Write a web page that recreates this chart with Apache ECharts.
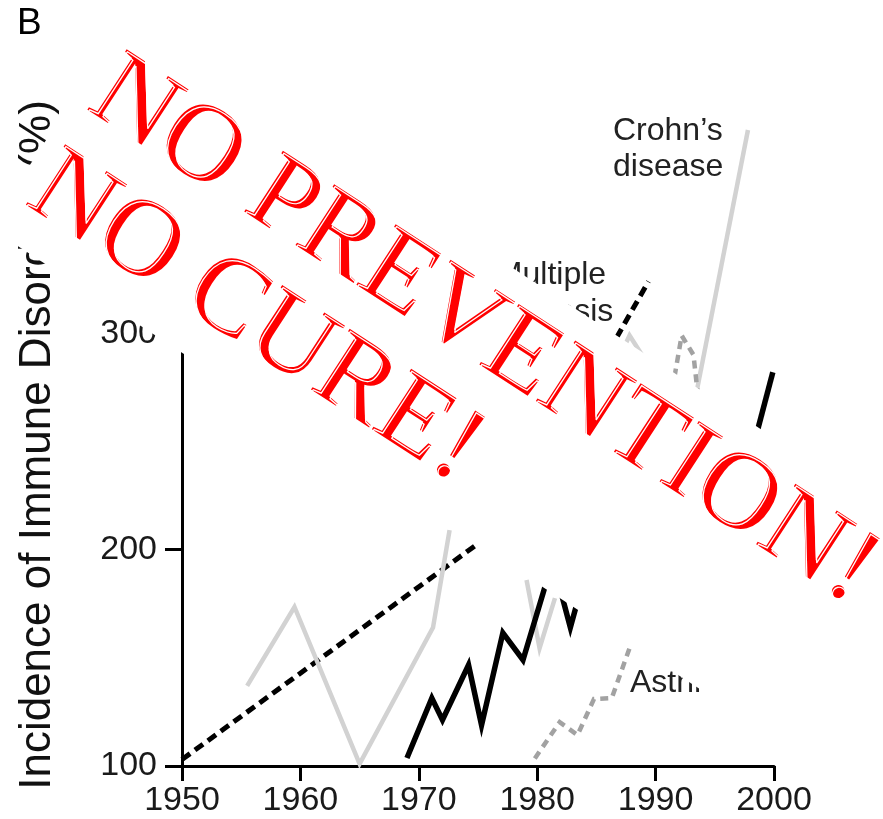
<!DOCTYPE html>
<html><head><meta charset="utf-8">
<script src="https://cdn.jsdelivr.net/npm/echarts@6/dist/echarts.min.js"></script>
<style>html,body{margin:0;padding:0;background:#fff}#c{width:883px;height:819px}</style>
</head><body><div id="c"></div>
<script>
// ---- axes ----
const xTicks = [1950, 1960, 1970, 1980, 1990, 2000];
const yTicks = [100, 200, 300, 400];
const yAxisTitle = 'Incidence of Immune Disorders (%)';
const panelLabel = 'B';
const overlayLines = ['NO PREVENTION!', 'NO CURE!'];

// ---- series (visible parts) ----
const blackDashedYears = [1950, 1974.8];
const blackDashedValues = [103, 202];

const grayA_Years = [1955.5, 1959.5, 1965.0, 1971.2, 1972.6];
const grayA_Values = [137, 173.5, 101, 164, 209];
const grayB_Years = [1979.1, 1980.2, 1981.5];
const grayB_Values = [186, 154.5, 177.6];
const grayC_Years = [1987.2, 1987.8, 1989.2];
const grayC_Values = [292, 299, 287];

const crohnYears = [1993.5, 1997.8];
const crohnValues = [274, 394];

const blackA_Years = [1969.0, 1971.1, 1972.0, 1974.2, 1975.3, 1977.1, 1978.8, 1980.5, 1981.3, 1982.8, 1983.6];
const blackA_Values = [103.7, 131.4, 121.3, 146.7, 118.9, 161.5, 149, 180, 195, 164, 180];
const blackB_Years = [1998.6, 1999.9];
const blackB_Values = [255, 282];

const msYears = [1986.7, 1989.4];
const msValues = [298, 324];

const asthmaYears = [1979.8, 1981.9, 1983.4, 1984.8, 1986.3, 1987.8];
const asthmaValues = [103.5, 120.3, 114.3, 131, 131.4, 154.5];
const grayDashB_Years = [1991.6, 1992.2, 1993.2, 1993.6];
const grayDashB_Values = [280, 299, 290, 270];

const labels = [
  {text: 'Crohn\u2019s', x: 613, y: 131.5, align: 'left'},
  {text: 'disease', x: 613, y: 167, align: 'left'},
  {text: 'Multiple', x: 551, y: 275, align: 'center'},
  {text: 'sclerosis', x: 551, y: 312, align: 'center'},
  {text: 'Asthma', x: 630, y: 683, align: 'left'}
];

function pts(xs, ys) { return xs.map((x, i) => [x, ys[i]]); }
function line(name, xs, ys, color, width, type) {
  return {
    name, type: 'line', data: pts(xs, ys), symbol: 'none', silent: true,
    lineStyle: {color, width, type: type || 'solid', join: 'miter', cap: 'butt'},
    z: 3, animation: false
  };
}
const BLACK = '#000', LIGHT = '#d2d2d2', MID = '#a2a2a2';

const chart = echarts.init(document.getElementById('c'), null, {renderer: 'canvas'});
const fontSans = '"Liberation Sans", Arial, sans-serif';
const fontSerif = '"Liberation Serif", "DejaVu Serif", serif';
const rot = -33 * Math.PI / 180;
const FS = 110;

function redText(str, y) {
  return [
    {type: 'text', z: 101, x: 15, y: y, style: {text: str, fill: '#ff0000', fontSize: FS, fontFamily: fontSerif, align: 'left', verticalAlign: 'middle'}},
    {type: 'text', z: 102, x: 17, y: y + 1.5, style: {text: str, fill: 'none', stroke: '#ffffff', lineWidth: 1.2, fontSize: FS, fontFamily: fontSerif, align: 'left', verticalAlign: 'middle'}}
  ];
}

chart.setOption({
  backgroundColor: '#fff',
  animation: false,
  grid: {left: 182, right: 109, top: 117, bottom: 53, containLabel: false},
  xAxis: {
    type: 'value', min: xTicks[0], max: xTicks[xTicks.length - 1], interval: 10,
    axisLine: {onZero: false, lineStyle: {color: '#000', width: 3}},
    axisTick: {length: 15, lineStyle: {color: '#000', width: 3}},
    axisLabel: {fontSize: 34, color: '#1a1a1a', fontFamily: fontSans, margin: 18, formatter: v => String(v)},
    splitLine: {show: false}
  },
  yAxis: {
    type: 'value', min: yTicks[0], max: yTicks[yTicks.length - 1], interval: 100,
    axisLine: {show: true, lineStyle: {color: '#000', width: 3}},
    axisTick: {show: true, length: 17, lineStyle: {color: '#000', width: 3}},
    axisLabel: {fontSize: 34, color: '#1a1a1a', fontFamily: fontSans, margin: 25, formatter: v => String(v)},
    splitLine: {show: false}
  },
  series: [
    line('dashed', blackDashedYears, blackDashedValues, BLACK, 5, [10, 6]),
    line('grayA', grayA_Years, grayA_Values, LIGHT, 4.5),
    line('grayB', grayB_Years, grayB_Values, LIGHT, 4.5),
    line('grayC', grayC_Years, grayC_Values, LIGHT, 4.5),
    line('Crohn\u2019s disease', crohnYears, crohnValues, LIGHT, 4.5),
    line('blackA', blackA_Years, blackA_Values, BLACK, 5.5),
    line('blackB', blackB_Years, blackB_Values, BLACK, 5.5),
    line('Multiple sclerosis', msYears, msValues, BLACK, 5, [10, 6]),
    line('Asthma', asthmaYears, asthmaValues, MID, 4.5, [8, 6]),
    line('grayDashB', grayDashB_Years, grayDashB_Values, MID, 4.5, [8, 6])
  ],
  graphic: [
    {type: 'text', x: 17, y: 23.5, z: 10, style: {text: panelLabel, fill: '#000', fontSize: 37, fontFamily: fontSans, align: 'left', verticalAlign: 'middle'}},
    {type: 'text', x: 38, y: 445, rotation: Math.PI / 2, z: 10, style: {text: yAxisTitle, fill: '#111', fontSize: 44, fontFamily: fontSans, align: 'center', verticalAlign: 'middle'}},
    ...labels.map(l => ({type: 'text', x: l.x, y: l.y, z: 10, style: {text: l.text, fill: '#222', fontSize: 32, fontFamily: fontSans, align: l.align, verticalAlign: 'middle'}})),
    {
      type: 'group', x: 126, y: 17, rotation: rot, z: 100,
      children: [
        {type: 'rect', z: 100, shape: {x: 0, y: 0, width: 1150, height: 251}, style: {fill: '#fff'}},
        ...redText(overlayLines[0], 70),
        ...redText(overlayLines[1], 183)
      ]
    }
  ]
});
</script></body></html>
